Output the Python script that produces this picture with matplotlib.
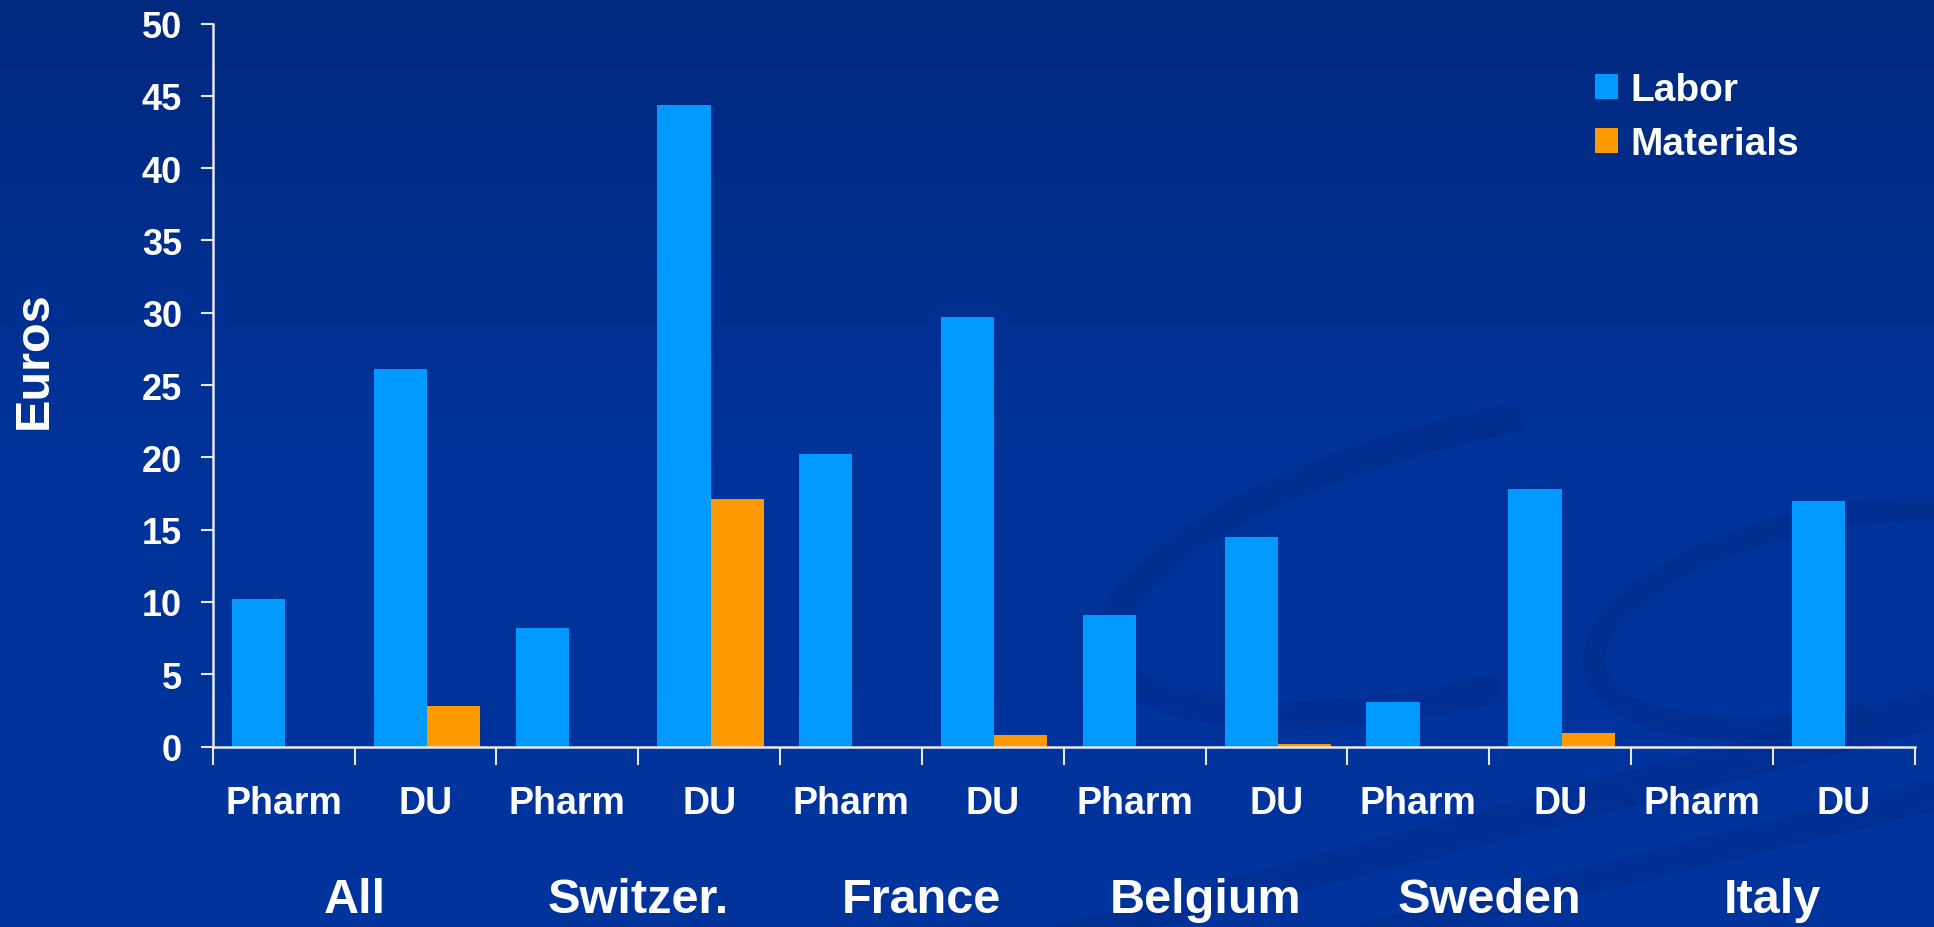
import matplotlib
matplotlib.use("Agg")
import matplotlib.pyplot as plt
import numpy as np
from matplotlib.patches import Arc, Polygon
import matplotlib.transforms as mtransforms

# data
groups = ['All', 'Switzer.', 'France', 'Belgium', 'Sweden', 'Italy']
sub_labels = ['Pharm', 'DU'] * 6
labor = [10.2, 26.1, 8.2, 44.4, 20.2, 29.7, 9.1, 14.5, 3.1, 17.8, 0.0, 17.0]
materials = [0.0, 2.8, 0.0, 17.15, 0.0, 0.77, 0.0, 0.2, 0.0, 0.9, 0.0, 0.0]
yticks = [0, 5, 10, 15, 20, 25, 30, 35, 40, 45, 50]

labor_col = '#0099ff'
mat_col = '#ff9900'
font = ['Liberation Sans', 'DejaVu Sans']

fig = plt.figure(figsize=(19.34, 9.28), dpi=100)

# background: gradient + faint swooshes
bg = fig.add_axes([0, 0, 1, 1], zorder=0)
grad = np.linspace(0, 1, 256).reshape(-1, 1)
cmap = matplotlib.colors.LinearSegmentedColormap.from_list(
    'bg', ['#00297f', '#00339a', '#00349c'])
bg.imshow(grad, aspect='auto', cmap=cmap, extent=[0, 1934, 928, 0])
swoosh = '#002a88'
bg.add_patch(Arc((1480, 560), 760, 260, angle=-14, theta1=95, theta2=300,
                 lw=20, color=swoosh, alpha=0.45))
bg.add_patch(Arc((1830, 620), 480, 200, angle=-12, theta1=80, theta2=330,
                 lw=16, color=swoosh, alpha=0.45))
bg.add_patch(Polygon([[1050, 928], [1934, 690], [1934, 730], [1160, 928]],
                     closed=True, color=swoosh, alpha=0.45, lw=0))
bg.add_patch(Polygon([[1350, 928], [1934, 780], [1934, 812], [1450, 928]],
                     closed=True, color=swoosh, alpha=0.4, lw=0))
bg.set_xlim(0, 1934)
bg.set_ylim(928, 0)
bg.axis('off')

ax = fig.add_axes([0.110, 0.1945, 0.880, 0.779], zorder=1)
ax.set_facecolor('none')

x = np.arange(len(labor))
ax.bar(x + 0.135, labor, width=0.375, align='edge', color=labor_col, label='Labor', zorder=2)
ax.bar(x + 0.51, materials, width=0.375, align='edge', color=mat_col, label='Materials', zorder=2)

ax.set_xlim(0, 12)
ax.set_ylim(0, 50)
ax.set_yticks(yticks)
ax.set_yticklabels([str(v) for v in yticks], family=font, fontweight='bold',
                   fontsize=26, color='white')
ax.set_xticks(np.arange(0, 13))
ax.set_xticklabels([])
ax.tick_params(axis='y', length=9, width=1.5, color='#e8e8f0', pad=13)
ax.tick_params(axis='x', length=13, width=1.5, color='#e8e8f0')

for s in ['top', 'right']:
    ax.spines[s].set_visible(False)
for s in ['left', 'bottom']:
    ax.spines[s].set_color('#e8e8f0')
    ax.spines[s].set_linewidth(1.8)

trans = mtransforms.blended_transform_factory(ax.transData, ax.transAxes)
for i, lab in enumerate(sub_labels):
    ax.text(i + 0.5, -0.078, lab, transform=trans, ha='center', va='center',
            family=font, fontweight='bold', fontsize=27, color='white')
for g, name in enumerate(groups):
    ax.text(2 * g + 1, -0.211, name, transform=trans, ha='center', va='center',
            family=font, fontweight='bold', fontsize=35, color='white')

ax.text(-0.105, 0.536, 'Euros', transform=ax.transAxes, rotation=90,
        ha='center', va='center', family=font, fontweight='bold',
        fontsize=35, color='white')

leg = ax.legend(loc='upper left', bbox_to_anchor=(0.8247, 0.921),
                bbox_transform=fig.transFigure, frameon=False,
                prop={'family': font, 'weight': 'bold', 'size': 28},
                handlelength=0.6, handleheight=0.6, handletextpad=0.3,
                labelspacing=0.46, borderpad=0, borderaxespad=0)
for t in leg.get_texts():
    t.set_color('white')

fig.savefig('out.png', dpi=100)
